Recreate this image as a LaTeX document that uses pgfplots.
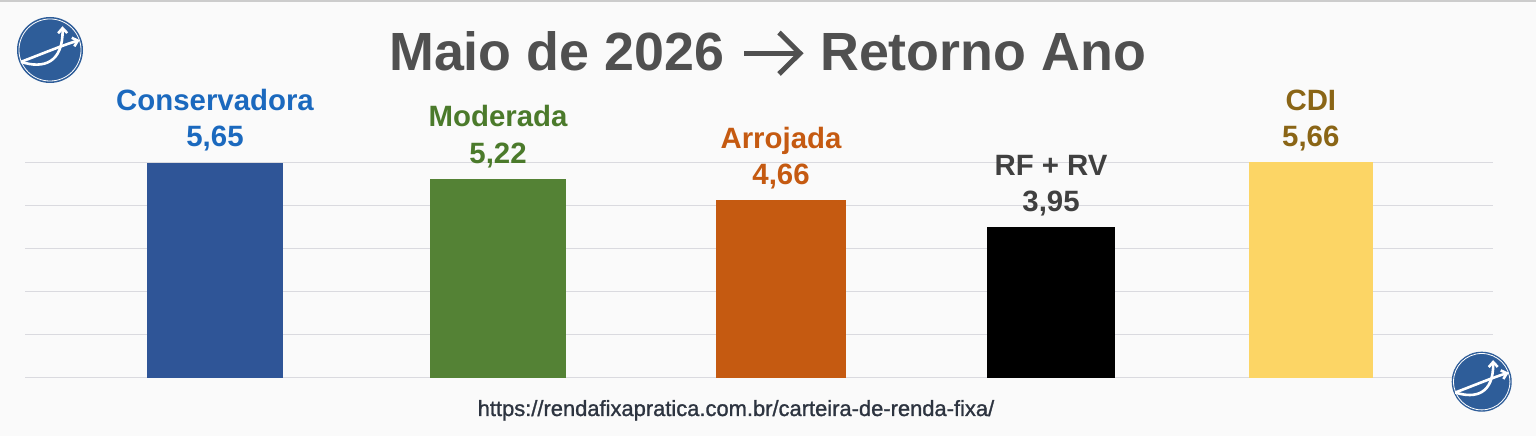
\documentclass[border=0pt]{standalone}
\usepackage{fontspec}
\setmainfont{Liberation Sans}
\newfontfamily\footfont[FakeBold=1.2]{Liberation Sans}
\usepackage{pgfplots}
\pgfplotsset{compat=1.18}
\usetikzlibrary{arrows.meta}
\definecolor{bg}{HTML}{FAFAFA}
\definecolor{topl}{HTML}{CCCCCC}
\definecolor{gridc}{HTML}{DADADF}
\definecolor{titlec}{HTML}{505050}
\definecolor{footc}{HTML}{2D3440}
\definecolor{logoc}{HTML}{2E5D99}
\definecolor{consB}{HTML}{2F5597}
\definecolor{consL}{HTML}{1B69BE}
\definecolor{modB}{HTML}{548235}
\definecolor{modL}{HTML}{4B7A2B}
\definecolor{arrB}{HTML}{C55A11}
\definecolor{arrL}{HTML}{C55A11}
\definecolor{rfB}{HTML}{000000}
\definecolor{rfL}{HTML}{404040}
\definecolor{cdiB}{HTML}{FCD565}
\definecolor{cdiL}{HTML}{8A6516}
\newcommand\logo[3]{%
  \begin{scope}[shift={(#1,#2)}, scale=#3]
    \fill[logoc] (0,0) circle (1);
    \draw[white, line width=0.8bp] (0,0) circle (0.94);
    \draw[white, line width=2.6bp, -{Straight Barb[length=5bp,width=9bp]}]
      (-0.88,-0.36) .. controls (-0.2,-0.1) and (0.4,0.15) .. (0.9,0.3);
    \draw[white, line width=2.6bp, -{Straight Barb[length=5bp,width=9bp]}]
      (-0.88,-0.36) .. controls (-0.2,-0.58) and (0.4,-0.4) .. (0.38,0.72);
  \end{scope}}
\pgfplotsset{lab/.style 2 args={nodes near coords={#1\\\pgfmathprintnumber[use comma,fixed,fixed zerofill,precision=2,assume math mode=true]{\pgfplotspointmeta}},
  every node near coord/.append style={text=#2}}}
\begin{document}
\begin{tikzpicture}[x=1bp,y=1bp]
\path[use as bounding box] (0,0) rectangle (1536,436);
\fill[bg] (0,0) rectangle (1536,436);
\draw[line width=2bp, topl] (0,435) -- (1536,435);
\begin{axis}[at={(25bp,58.3bp)}, anchor=south west, scale only axis,
  width=1468bp, height=215bp,
  xmin=25, xmax=1493, ymin=0, ymax=5.65,
  axis line style={draw=none}, xtick=\empty,
  ytick={0,1.13,2.26,3.39,4.52,5.65}, yticklabels={},
  major tick length=0pt, ymajorgrids,
  grid style={line width=1.6bp, gridc},
  clip=false, ybar, bar shift=0pt, point meta=y,
  every node near coord/.append style={anchor=south, inner sep=0pt, yshift=11bp, align=center,
    font=\bfseries\fontsize{29.5}{36.5}\selectfont},
]
\addplot[fill=consB, draw=none, bar width=135.4, lab={Conservadora}{consL}] coordinates {(215,5.65)};
\addplot[fill=modB, draw=none, bar width=136, lab={Moderada}{modL}] coordinates {(498,5.22)};
\addplot[fill=arrB, draw=none, bar width=130.6, lab={Arrojada}{arrL}] coordinates {(781,4.66)};
\addplot[fill=rfB, draw=none, bar width=128.6, lab={RF + RV}{rfL}] coordinates {(1051,3.95)};
\addplot[fill=cdiB, draw=none, bar width=124.3, lab={CDI}{cdiL}] coordinates {(1310.8,5.66)};
\end{axis}
% title
\node[anchor=base west, inner sep=0pt, text=titlec, font=\bfseries\fontsize{54}{60}\selectfont] at (389,365) {Maio de 2026};
\draw[titlec, line width=5.5bp] (744,382.7) -- (799,382.7);
\draw[titlec, line width=5bp, line join=miter, line cap=butt] (779,403.5) -- (800,382.7) -- (779,362);
\node[anchor=base west, inner sep=0pt, text=titlec, font=\bfseries\fontsize{54}{60}\selectfont] at (820,365) {Retorno Ano};
% footer
\node[anchor=base west, inner sep=0pt, text=footc, font=\footfont\fontsize{22}{25}\selectfont] at (477.5,20) {https://rendafixapratica.com.br/carteira-de-renda-fixa/};
% logos
\logo{50}{386}{33}
\logo{1481.7}{54.3}{30}
\end{tikzpicture}
\end{document}
